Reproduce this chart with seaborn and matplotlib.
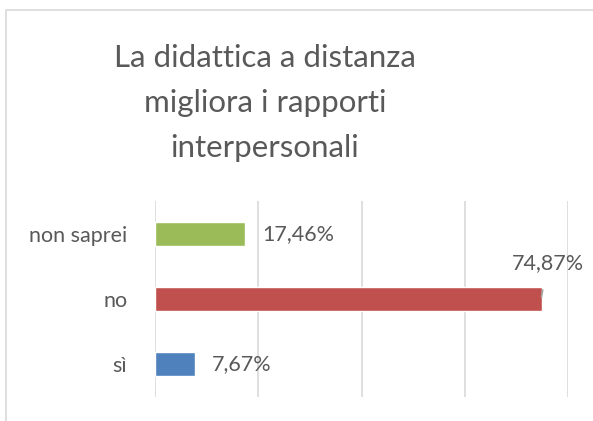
import matplotlib
matplotlib.use("Agg")

import matplotlib.pyplot as plt
import seaborn as sns
import pandas as pd
from matplotlib.patches import Rectangle

# dati
categorie = ["non saprei", "no", "sì"]
percentuali = [17.46, 74.87, 7.67]
etichette = ["17,46%", "74,87%", "7,67%"]
colori = ["#9BBB59", "#C0504D", "#4F81BD"]
titolo = "La didattica a distanza\nmigliora i rapporti\ninterpersonali"

df = pd.DataFrame({"categoria": categorie, "valore": percentuali})

sns.set_style("white")
plt.rcParams["font.family"] = ["Lato", "DejaVu Sans"]

grigio = "#595959"

fig = plt.figure(figsize=(5.93, 4.21), dpi=100)
W, H = 593, 421

# bordo del grafico (tagliato a destra e in basso)
fig.patches.append(Rectangle((6 / W, -0.1), 1.2, 1.1 - 10 / H,
                             transform=fig.transFigure, fill=False,
                             edgecolor="#D9D9D9", linewidth=1.2))

ax = fig.add_axes([155 / W, 1 - 397 / H, (568 - 155) / W, (397 - 201) / H])

sns.barplot(data=df, x="valore", y="categoria", hue="categoria",
            palette=colori, order=categorie, hue_order=categorie,
            width=0.366, legend=False, ax=ax, saturation=1)

ax.set_xlim(0, 80)
ax.set_ylim(2.5, -0.5)
ax.set_xticks([0, 20, 40, 60, 80])
ax.xaxis.grid(True, color="#D9D9D9", linewidth=1.2)
ax.set_axisbelow(True)
ax.set_xticklabels([])
ax.tick_params(axis="x", length=0)
ax.tick_params(axis="y", length=0, labelsize=15.5, labelcolor=grigio, pad=20)
ax.set_xlabel("")
ax.set_ylabel("")
for s in ax.spines.values():
    s.set_visible(False)

# etichette dati
for i, (v, lab) in enumerate(zip(percentuali, etichette)):
    if v > 50:
        ax.annotate(lab, xy=(v, i - 0.03), xytext=(6, 34),
                    textcoords="offset pixels", ha="center", va="center",
                    fontsize=15.5, color=grigio,
                    arrowprops=dict(arrowstyle="-", color="#A6A6A6",
                                    linewidth=1.2, shrinkA=10, shrinkB=0))
    else:
        ax.annotate(lab, xy=(v, i), xytext=(17, 0),
                    textcoords="offset pixels", ha="left", va="center",
                    fontsize=15.5, color=grigio)

fig.text(265 / W, 1 - 103 / H, titolo, ha="center", va="center",
         fontsize=22.5, color=grigio, linespacing=1.75)

fig.savefig("out.png", dpi=100)
plt.close(fig)
